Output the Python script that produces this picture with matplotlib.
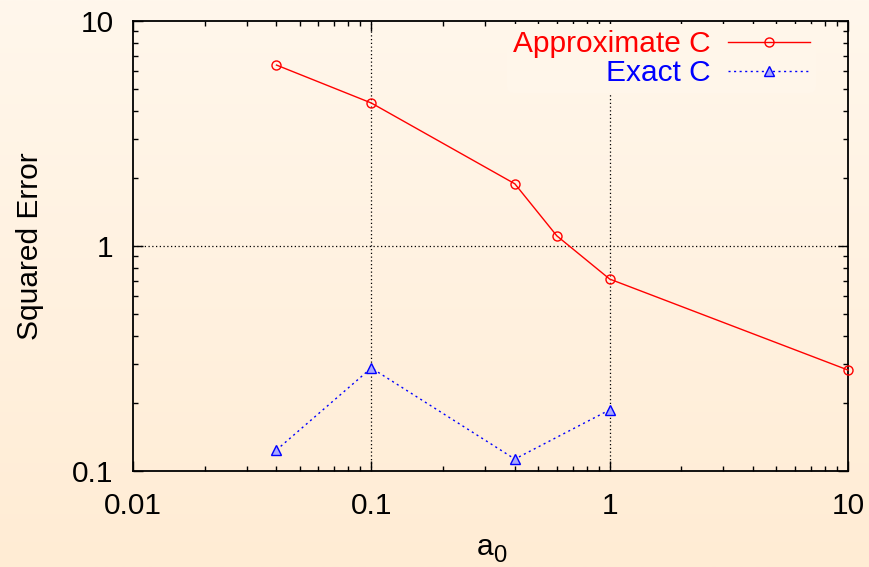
import numpy as np
import matplotlib
matplotlib.use("Agg")
import matplotlib.pyplot as plt
from matplotlib.colors import LinearSegmentedColormap
from matplotlib.ticker import LogLocator, FixedLocator, NullFormatter, FixedFormatter

plt.rcParams['font.family'] = ['Liberation Sans', 'DejaVu Sans']

# Data
a0_approx = [0.04, 0.1, 0.4, 0.6, 1.0, 10.0]
err_approx = [6.37, 4.32, 1.89, 1.11, 0.713, 0.281]
a0_exact = [0.04, 0.1, 0.4, 1.0]
err_exact = [0.124, 0.287, 0.113, 0.187]

x_ticks = [0.01, 0.1, 1, 10]
x_ticklabels = ["0.01", "0.1", "1", "10"]
y_ticks = [0.1, 1, 10]
y_ticklabels = ["0.1", "1", "10"]

FS = 21.5

fig = plt.figure(figsize=(8.69, 5.67), dpi=100)

# Background gradient over the whole figure
bg = fig.add_axes([0, 0, 1, 1], zorder=-10)
cmap = LinearSegmentedColormap.from_list("bg", ["#FFF7EC", "#FFECD4"])
grad = np.linspace(0, 1, 256).reshape(-1, 1)
bg.imshow(grad, aspect='auto', cmap=cmap, extent=[0, 1, 0, 1], origin='upper')
bg.axis('off')

W, H = 869, 567
left, right, top, bottom = 133, 848, 21, 471
ax = fig.add_axes([left / W, 1 - bottom / H, (right - left) / W, (bottom - top) / H])
ax.set_facecolor('none')

ax.set_xscale('log')
ax.set_yscale('log')
ax.set_xlim(0.01, 10)
ax.set_ylim(0.1, 10)

ax.plot(a0_approx, err_approx, color='#FF0000', lw=1.0, marker='o', ms=6.5,
        mfc='none', mec='#FF0000', mew=1.0, label='Approximate C', zorder=3, clip_on=False)
ax.plot(a0_exact, err_exact, color='#0000FF', lw=1.0, ls=(0, (1.5, 2.5)), marker='^', ms=6.5,
        mfc='#A8A8FF', mec='#0000FF', mew=1.0, label='Exact C', zorder=3, clip_on=False)

ax.xaxis.set_major_locator(FixedLocator(x_ticks))
ax.xaxis.set_major_formatter(FixedFormatter(x_ticklabels))
ax.yaxis.set_major_locator(FixedLocator(y_ticks))
ax.yaxis.set_major_formatter(FixedFormatter(y_ticklabels))
ax.xaxis.set_minor_locator(LogLocator(base=10, subs=np.arange(2, 10), numticks=20))
ax.yaxis.set_minor_locator(LogLocator(base=10, subs=np.arange(2, 10), numticks=20))
ax.xaxis.set_minor_formatter(NullFormatter())
ax.yaxis.set_minor_formatter(NullFormatter())

ax.tick_params(which='both', direction='in', top=True, right=True, labelsize=FS, colors='black')
ax.tick_params(which='major', length=7, width=1.0)
ax.tick_params(which='minor', length=3.5, width=1.0)
ax.tick_params(axis='x', which='major', pad=15)
ax.tick_params(axis='y', which='major', pad=14)

# Grid lines at inner major ticks only
for xv in x_ticks[1:-1]:
    ax.axvline(xv, color='black', lw=0.9, ls=(0, (1, 2)), zorder=1)
for yv in y_ticks[1:-1]:
    ax.axhline(yv, color='black', lw=0.9, ls=(0, (1, 2)), zorder=1)

for sp in ax.spines.values():
    sp.set_linewidth(1.3)

# x-axis label: "a" with a large subscript "0"
ax.annotate("a", xy=(0.5, 0), xycoords='axes fraction', xytext=(-3.6, -60.5),
            textcoords='offset points', ha='center', va='baseline', fontsize=FS)
ax.annotate("0", xy=(0.5, 0), xycoords='axes fraction', xytext=(6.8, -65.5),
            textcoords='offset points', ha='center', va='baseline', fontsize=FS * 0.8)
ax.set_ylabel("Squared Error", fontsize=FS, labelpad=20)

leg = ax.legend(loc='upper right', bbox_to_anchor=(0.96, 1.0), markerfirst=False, fontsize=FS,
                frameon=True, handlelength=2.75, handletextpad=0.6, labelspacing=0.05,
                borderpad=0.2, borderaxespad=0.1)
leg.get_frame().set_facecolor('#FFF6EA')
leg.get_frame().set_edgecolor('none')
leg.get_frame().set_alpha(1.0)
for txt, line in zip(leg.get_texts(), leg.get_lines()):
    txt.set_color(line.get_color())
leg.set_zorder(5)

fig.savefig("out.png", dpi=100)
